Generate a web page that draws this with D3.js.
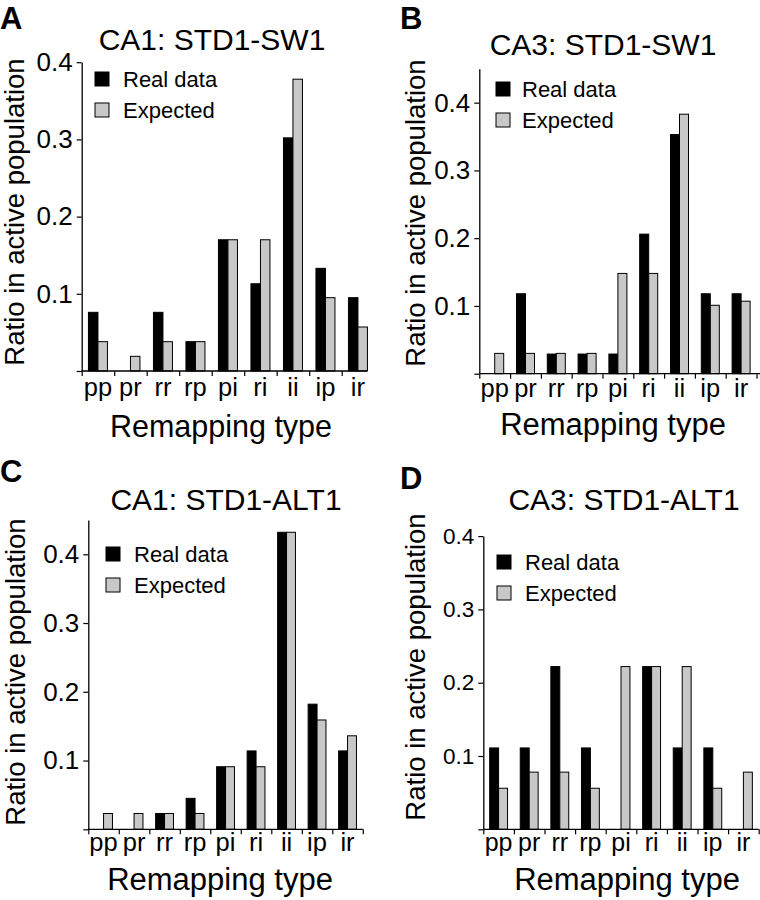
<!DOCTYPE html>
<html>
<head>
<meta charset="utf-8">
<script src="https://cdn.jsdelivr.net/npm/d3@7"></script>
<style>
  html, body { margin: 0; padding: 0; background: #fff; }
  svg { display: block; font-family: "Liberation Sans", Arial, Helvetica, sans-serif; }
</style>
</head>
<body>
<svg id="chart" width="760" height="900"></svg>
<script>
// ---------------- DATA ----------------
const categories = ["pp", "pr", "rr", "rp", "pi", "ri", "ii", "ip", "ir"];
const seriesNames = ["Real data", "Expected"];
const yTickValues = [0, 0.1, 0.2, 0.3, 0.4];
const panelLetters = ["A", "B", "C", "D"];
const panelTitles = ["CA1: STD1-SW1", "CA3: STD1-SW1", "CA1: STD1-ALT1", "CA3: STD1-ALT1"];
const xAxisTitle = "Remapping type";
const yAxisTitle = "Ratio in active population";

const ca1Sw1Real     = [0.076, 0.000, 0.076, 0.038, 0.170, 0.113, 0.302, 0.133, 0.095];
const ca1Sw1Expected = [0.038, 0.019, 0.038, 0.038, 0.170, 0.170, 0.378, 0.095, 0.057];
const ca3Sw1Real     = [0.000, 0.118, 0.029, 0.029, 0.029, 0.206, 0.353, 0.118, 0.118];
const ca3Sw1Expected = [0.030, 0.030, 0.030, 0.030, 0.148, 0.148, 0.383, 0.101, 0.107];
const ca1Alt1Real     = [0.000, 0.000, 0.023, 0.045, 0.091, 0.114, 0.432, 0.182, 0.114];
const ca1Alt1Expected = [0.023, 0.023, 0.023, 0.023, 0.091, 0.091, 0.432, 0.159, 0.136];
const ca3Alt1Real     = [0.111, 0.111, 0.222, 0.111, 0.000, 0.222, 0.111, 0.111, 0.000];
const ca3Alt1Expected = [0.056, 0.078, 0.078, 0.056, 0.222, 0.222, 0.222, 0.056, 0.078];

const panelSeries = [
  [ca1Sw1Real, ca1Sw1Expected],
  [ca3Sw1Real, ca3Sw1Expected],
  [ca1Alt1Real, ca1Alt1Expected],
  [ca3Alt1Real, ca3Alt1Expected]
];
const panelYMax = [0.4, 0.45, 0.45, 0.4];

// ---------------- LAYOUT ----------------
const layouts = [
  { x0: 81.7, bw: 32.5, y0: 371, yTop: 62.2, axisEnd: 367, endTick: false,
    tickFont: 26, xTickFont: 25.5, catY: 396,
    title: [212, 49.5], xTitle: [221, 436.5], xTitleFont: 30.5, yTitle: [24, 212],
    legend: [95, 72, 123], letter: [0, 28.5] },
  { x0: 479.3, bw: 30.8, y0: 373.7, yTop: 68.8, axisEnd: 760, endTick: true,
    tickFont: 26, xTickFont: 25.5, catY: 397,
    title: [603, 55], xTitle: [613, 435], xTitleFont: 31, yTitle: [425, 213],
    legend: [496, 82, 522], letter: [400, 28.5] },
  { x0: 88.3, bw: 30.5, y0: 829.3, yTop: 519.9, axisEnd: 362.8, endTick: true,
    tickFont: 26, xTickFont: 25.5, catY: 851,
    title: [226, 510], xTitle: [220, 890], xTitleFont: 31, yTitle: [25, 672],
    legend: [106, 547, 134], letter: [0, 482] },
  { x0: 483.3, bw: 30.6, y0: 829.3, yTop: 536.1, axisEnd: 758.7, endTick: true,
    tickFont: 22.5, xTickFont: 25, catY: 851,
    title: [624, 510], xTitle: [627, 890], xTitleFont: 31, yTitle: [425, 667],
    legend: [497, 555, 525], letter: [400, 489] }
];

const colors = ["#000000", "#c8c8c8"];
const svg = d3.select("#chart");

layouts.forEach((L, i) => {
  const g = svg.append("g");
  const xEnd = L.x0 + categories.length * L.bw;
  const x = d3.scaleBand().domain(categories).range([L.x0, xEnd]);
  const xInner = d3.scaleBand().domain(seriesNames).range([0, L.bw]).paddingOuter(0.71);
  const y = d3.scaleLinear().domain([0, panelYMax[i]]).range([L.y0, L.yTop]);

  // bars
  const data = [];
  categories.forEach((c, ci) => {
    seriesNames.forEach((s, si) => {
      data.push({ c, s, si, v: panelSeries[i][si][ci] });
    });
  });
  g.selectAll("rect.bar").data(data.filter(d => d.v > 0)).join("rect")
    .attr("class", "bar")
    .attr("x", d => x(d.c) + xInner(d.s))
    .attr("width", xInner.bandwidth())
    .attr("y", d => y(d.v))
    .attr("height", d => L.y0 - y(d.v))
    .attr("fill", d => colors[d.si])
    .attr("stroke", "#000")
    .attr("stroke-width", 1);

  // y axis
  const yAxis = d3.axisLeft(y)
    .tickValues(yTickValues)
    .tickFormat(d => d === 0 ? "" : d3.format(".1f")(d))
    .tickSize(5).tickSizeOuter(0).tickPadding(4);
  const ya = g.append("g").attr("transform", `translate(${L.x0},0)`).call(yAxis);
  ya.select(".domain").attr("stroke", "#000").attr("stroke-width", 1.3);
  ya.selectAll(".tick line").attr("stroke", "#000").attr("stroke-width", 1.2);
  ya.selectAll(".tick text").attr("font-size", L.tickFont).attr("fill", "#000")
    .attr("font-family", "Liberation Sans, Arial, sans-serif");

  // x axis: boundary ticks
  const idx = d3.scaleLinear().domain([0, categories.length]).range([L.x0, xEnd]);
  const tickIdx = d3.range(L.endTick ? categories.length + 1 : categories.length);
  const xAxis = d3.axisBottom(idx).tickValues(tickIdx).tickFormat("").tickSize(5).tickSizeOuter(0);
  const xa = g.append("g").attr("transform", `translate(0,${L.y0})`).call(xAxis);
  xa.select(".domain").remove();
  xa.selectAll(".tick line").attr("stroke", "#000").attr("stroke-width", 1.2);
  g.append("line")
    .attr("x1", L.x0).attr("x2", L.axisEnd)
    .attr("y1", L.y0).attr("y2", L.y0)
    .attr("stroke", "#000").attr("stroke-width", 1.3);

  // x category labels
  g.selectAll("text.cat").data(categories).join("text")
    .attr("class", "cat")
    .attr("x", d => x(d) + x.bandwidth() / 2)
    .attr("y", L.catY)
    .attr("text-anchor", "middle")
    .attr("font-size", L.xTickFont)
    .attr("fill", "#000")
    .text(d => d);

  // titles
  g.append("text").attr("x", L.title[0]).attr("y", L.title[1])
    .attr("text-anchor", "middle").attr("font-size", 30).attr("fill", "#000")
    .text(panelTitles[i]);
  g.append("text").attr("x", L.xTitle[0]).attr("y", L.xTitle[1])
    .attr("text-anchor", "middle").attr("font-size", L.xTitleFont).attr("fill", "#000")
    .text(xAxisTitle);
  g.append("text")
    .attr("transform", `translate(${L.yTitle[0]},${L.yTitle[1]}) rotate(-90)`)
    .attr("text-anchor", "middle").attr("font-size", 27.5).attr("fill", "#000")
    .text(yAxisTitle);

  // panel letter
  g.append("text").attr("x", L.letter[0]).attr("y", L.letter[1])
    .attr("font-size", 31).attr("font-weight", "bold").attr("fill", "#000")
    .text(panelLetters[i]);

  // legend
  const lg = g.append("g");
  seriesNames.forEach((s, si) => {
    const yy = L.legend[1] + si * 31;
    lg.append("rect").attr("x", L.legend[0]).attr("y", yy)
      .attr("width", 14).attr("height", 14)
      .attr("fill", colors[si]).attr("stroke", "#000").attr("stroke-width", 1);
    lg.append("text").attr("x", L.legend[2]).attr("y", yy + 14.5)
      .attr("font-size", 22).attr("fill", "#000").text(s);
  });
});
</script>
</body>
</html>
